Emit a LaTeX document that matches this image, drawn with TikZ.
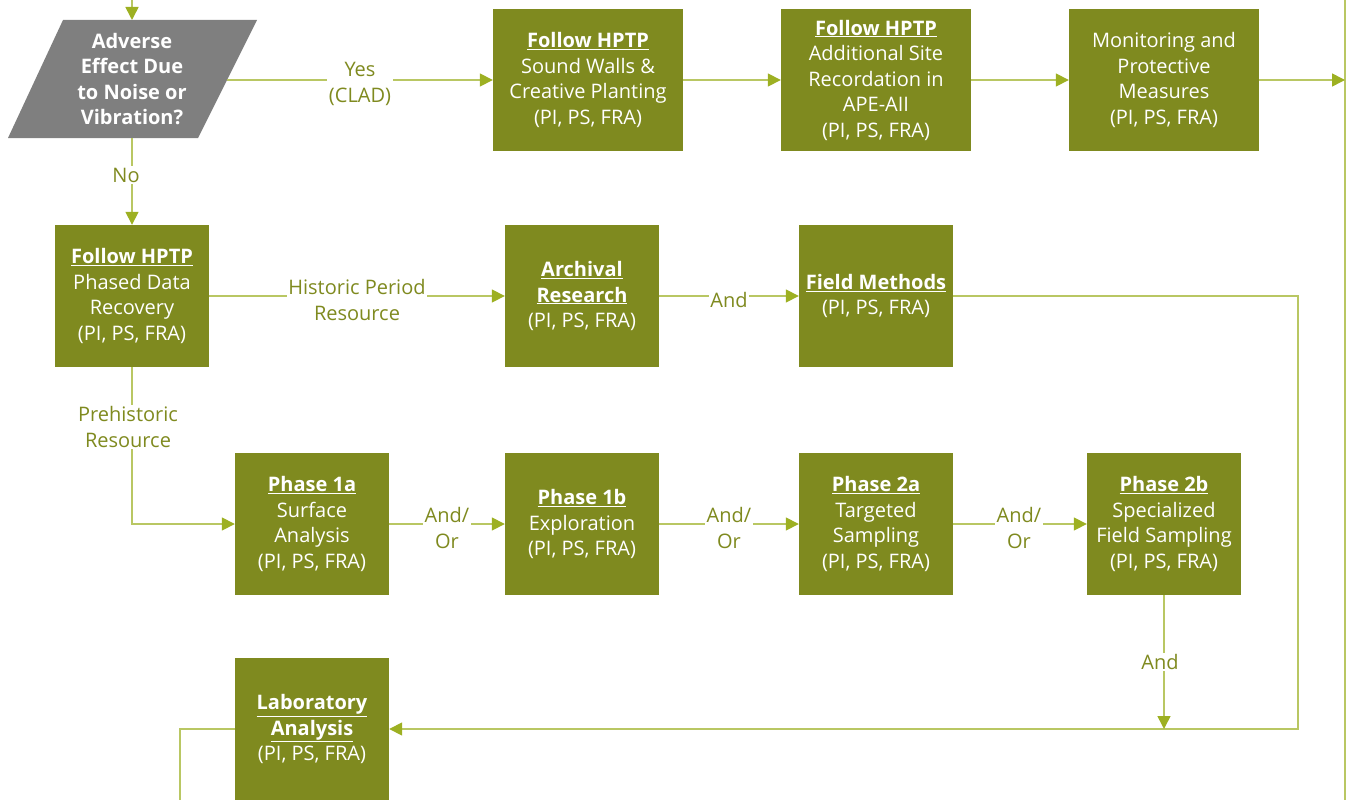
\documentclass[tikz,border=0pt]{standalone}
\usepackage{fontspec}
\setmainfont{Open Sans}
\usetikzlibrary{arrows.meta}
\definecolor{boxc}{HTML}{7F8A1F}
\definecolor{linec}{HTML}{B9C763}
\definecolor{arrc}{HTML}{9DB022}
\definecolor{labc}{HTML}{7F8A1F}
\definecolor{grayc}{HTML}{7F7F7F}
\newcommand\hdr[1]{\textbf{\underline{#1}}}
\begin{document}
\begin{tikzpicture}[x=1pt,y=-1pt,
  font=\fontsize{20}{25.5}\selectfont,
  box/.style={rectangle, fill=boxc, text=white, align=center, inner sep=0pt,
    minimum width=154pt, minimum height=142pt},
  wbox/.style={box, minimum width=190pt},
  conn/.style={draw=linec, line width=1.6pt},
  arr/.style={conn, -{Triangle[length=13pt,width=13pt,color=arrc]}},
  lab/.style={fill=white, text=labc, align=center, inner sep=1.5pt}]
\useasboundingbox (0,0) rectangle (1358,800);
% decision parallelogram
\fill[grayc] (63,20) -- (257,20) -- (198,138) -- (8,138) -- cycle;
\node[text=white, align=center, font=\fontsize{20}{25.5}\selectfont\bfseries] (q) at (132,79) {Adverse\\Effect Due\\to Noise or\\Vibration?};
\coordinate (qt) at (132,20);
\coordinate (qb) at (132,138);
\coordinate (qr) at (227,80);
\coordinate (top) at (132,0);
% boxes
\node[wbox] (sw) at (588,80) {\hdr{Follow HPTP}\\Sound Walls \&\\Creative Planting\\(PI, PS, FRA)};
\node[wbox] (asr) at (876,80) {\hdr{Follow HPTP}\\Additional Site\\Recordation in\\APE-AII\\(PI, PS, FRA)};
\node[wbox] (mon) at (1164,80) {Monitoring and\\Protective\\Measures\\(PI, PS, FRA)};
\node[box] (pdr) at (132,296) {\hdr{Follow HPTP}\\Phased Data\\Recovery\\(PI, PS, FRA)};
\node[box] (arc) at (582,296) {\hdr{Archival}\\\hdr{Research}\\(PI, PS, FRA)};
\node[box] (fm) at (876,296) {\hdr{Field Methods}\\(PI, PS, FRA)};
\node[box] (p1a) at (312,524) {\hdr{Phase 1a}\\Surface\\Analysis\\(PI, PS, FRA)};
\node[box] (p1b) at (582,524) {\hdr{Phase 1b}\\Exploration\\(PI, PS, FRA)};
\node[box] (p2a) at (876,524) {\hdr{Phase 2a}\\Targeted\\Sampling\\(PI, PS, FRA)};
\node[box] (p2b) at (1164,524) {\hdr{Phase 2b}\\Specialized\\Field Sampling\\(PI, PS, FRA)};
\node[box] (lab) at (312,729) {\hdr{Laboratory}\\\hdr{Analysis}\\(PI, PS, FRA)};
% coordinates
\coordinate (rtop) at (1345,0);
\coordinate (rbot) at (1345,800);
\coordinate (rin) at (1345,80);
\coordinate (fmc) at (1298,296);
\coordinate (fmd) at (1298,729);
\coordinate (j) at (1164,729);
\coordinate (pc) at (132,524);
\coordinate (lc) at (180,729);
\coordinate (lb) at (180,800);
% connectors
\draw[arr] (top) -- (qt);
\draw[conn] (rtop) -- (rbot);
\draw[arr] (qr) -- (sw.west);
\draw[arr] (sw.east) -- (asr.west);
\draw[arr] (asr.east) -- (mon.west);
\draw[arr] (mon.east) -- (rin);
\draw[arr] (qb) -- (pdr.north);
\draw[arr] (pdr.east) -- (arc.west);
\draw[arr] (arc.east) -- (fm.west);
\draw[arr] (fm.east) -- (fmc) -- (fmd) -- (lab.east);
\draw[arr] (pdr.south) -- (pc) -- (p1a.west);
\draw[arr] (p1a.east) -- (p1b.west);
\draw[arr] (p1b.east) -- (p2a.west);
\draw[arr] (p2a.east) -- (p2b.west);
\draw[arr] (p2b.south) -- (j);
\draw[conn] (lab.west) -- (lc) -- (lb);
% labels
\node[lab] (l1) at (360,84) {Yes\\(CLAD)};
\node[lab] (l2) at (126,175) {No};
\node[lab] (l3) at (357,300) {Historic Period\\Resource};
\node[lab] (l4) at (729,300) {And};
\node[lab] (l5) at (128,427) {Prehistoric\\Resource};
\node[lab] (l6) at (447,528) {And/\\Or};
\node[lab] (l7) at (729,528) {And/\\Or};
\node[lab] (l8) at (1019,528) {And/\\Or};
\node[lab] (l9) at (1160,662) {And};
\end{tikzpicture}
\end{document}
